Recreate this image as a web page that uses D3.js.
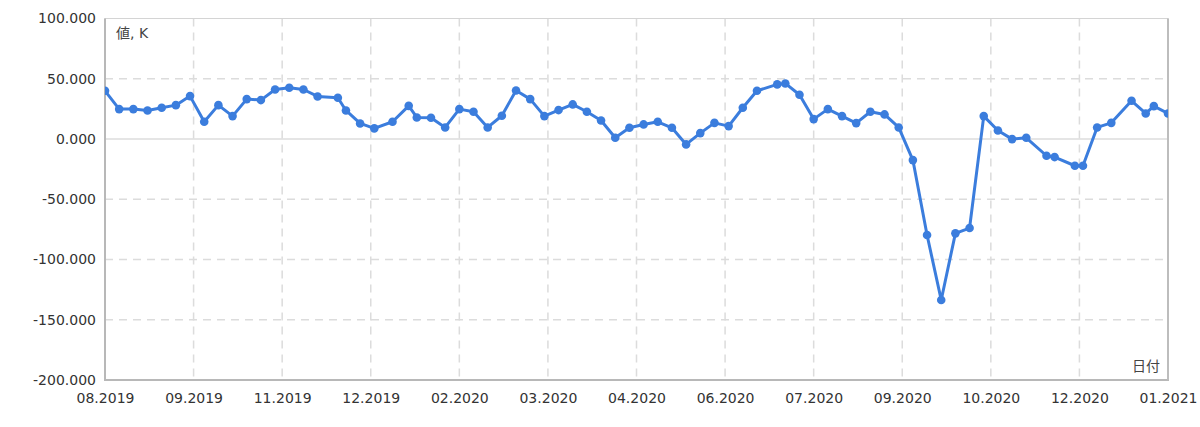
<!DOCTYPE html>
<html>
<head>
<meta charset="utf-8">
<script src="https://cdn.jsdelivr.net/npm/d3@7/dist/d3.min.js"></script>
<style>
  html, body { margin: 0; padding: 0; background: #fff; }
  svg { display: block; }
  text { font-family: "DejaVu Sans", "Noto Sans CJK JP", sans-serif; }
</style>
</head>
<body>
<svg id="chart" width="1200" height="427"></svg>
<script>
// ---- data ----
const dates = [
  "2019-08-11","2019-08-18","2019-08-25","2019-09-01","2019-09-08","2019-09-15","2019-09-22","2019-09-29",
  "2019-10-06","2019-10-13","2019-10-20","2019-10-27","2019-11-03","2019-11-10","2019-11-17","2019-11-24",
  "2019-12-04","2019-12-08","2019-12-15","2019-12-22","2019-12-31","2020-01-08","2020-01-12","2020-01-19",
  "2020-01-26","2020-02-02","2020-02-09","2020-02-16","2020-02-23","2020-03-01","2020-03-08","2020-03-15",
  "2020-03-22","2020-03-29","2020-04-05","2020-04-12","2020-04-19","2020-04-26","2020-05-03","2020-05-10",
  "2020-05-17","2020-05-24","2020-05-31","2020-06-07","2020-06-14","2020-06-21","2020-06-28","2020-07-08",
  "2020-07-12","2020-07-19","2020-07-26","2020-08-02","2020-08-09","2020-08-16","2020-08-23","2020-08-30",
  "2020-09-06","2020-09-13","2020-09-20","2020-09-27","2020-10-04","2020-10-11","2020-10-18","2020-10-25",
  "2020-11-01","2020-11-08","2020-11-18","2020-11-22","2020-12-02","2020-12-06","2020-12-13","2020-12-20",
  "2020-12-30","2021-01-06","2021-01-10","2021-01-17"
];
const values = [
  40.0, 24.8, 24.8, 23.7, 25.9, 28.1, 35.6, 14.3, 28.1, 19.0, 33.1, 32.3, 41.1, 42.5, 41.1, 35.3,
  34.2, 23.7, 12.9, 8.8, 14.3, 27.5, 17.9, 17.6, 9.6, 24.8, 22.6, 9.6, 19.3, 40.3, 33.1, 19.0,
  24.0, 28.7, 22.6, 15.4, 1.0, 9.3, 12.1, 14.3, 9.3, -4.5, 4.9, 13.4, 10.7, 25.9, 40.0, 45.3,
  46.1, 36.7, 16.5, 24.8, 19.0, 13.2, 22.6, 20.4, 9.6, -17.5, -79.7, -133.6, -78.3, -73.9, 19.0, 7.1,
  -0.1, 1.0, -13.9, -15.0, -22.2, -22.2, 9.6, 13.4, 31.7, 21.2, 27.3, 21.2
];
const yTicks = [100, 50, 0, -50, -100, -150, -200];
const xTickCount = 13;
const yAxisTitle = "値, K";
const xAxisTitle = "日付";

// ---- layout ----
const margin = { left: 105, right: 32, top: 18.5, bottom: 47 };
const W = 1200, H = 427;
const svg = d3.select("#chart");
const parse = d3.utcParse("%Y-%m-%d");
const data = dates.map((d, i) => ({ date: parse(d), value: values[i] }));

const x = d3.scaleUtc()
  .domain(d3.extent(data, d => d.date))
  .range([margin.left, W - margin.right]);
const y = d3.scaleLinear()
  .domain([-200, 100])
  .range([H - margin.bottom, margin.top]);

const [d0, d1] = x.domain();
const xTicks = d3.range(xTickCount).map(k => new Date(+d0 + (d1 - d0) * k / (xTickCount - 1)));
const fmtX = d3.utcFormat("%m.%Y");
const locale = d3.formatLocale({ decimal: ".", thousands: ",", grouping: [3], currency: ["", ""], minus: "-" });
const fmtY = locale.format(".3f");

const gridColor = "#dcdcdc";

// horizontal grid
svg.append("g").selectAll("line").data(yTicks.filter(v => v !== 100 && v !== -200)).join("line")
  .attr("x1", margin.left).attr("x2", W - margin.right)
  .attr("y1", d => y(d)).attr("y2", d => y(d))
  .attr("stroke", gridColor).attr("stroke-width", 1.5)
  .attr("stroke-dasharray", d => d === 0 ? null : "8,6");

// vertical grid
svg.append("g").selectAll("line").data(xTicks.slice(1, -1)).join("line")
  .attr("x1", d => x(d)).attr("x2", d => x(d))
  .attr("y1", margin.top).attr("y2", H - margin.bottom)
  .attr("stroke", gridColor).attr("stroke-width", 1.5)
  .attr("stroke-dasharray", "8,6");

// frame
svg.append("rect")
  .attr("x", margin.left).attr("y", margin.top)
  .attr("width", W - margin.right - margin.left)
  .attr("height", H - margin.bottom - margin.top)
  .attr("fill", "none").attr("stroke", "#d4d4d4").attr("stroke-width", 1);
svg.append("line")
  .attr("x1", margin.left).attr("x2", margin.left)
  .attr("y1", margin.top).attr("y2", H - margin.bottom + 1)
  .attr("stroke", "#b8b8b8").attr("stroke-width", 2);
svg.append("line")
  .attr("x1", margin.left).attr("x2", W - margin.right + 1)
  .attr("y1", H - margin.bottom).attr("y2", H - margin.bottom)
  .attr("stroke", "#b8b8b8").attr("stroke-width", 2);
svg.append("line")
  .attr("x1", W - margin.right).attr("x2", W - margin.right)
  .attr("y1", margin.top).attr("y2", H - margin.bottom)
  .attr("stroke", "#bdbdbd").attr("stroke-width", 2);

// y axis labels
const yAxis = d3.axisLeft(y).tickValues(yTicks).tickFormat(fmtY).tickSize(0).tickPadding(9);
const gy = svg.append("g").attr("transform", `translate(${margin.left},0)`).call(yAxis);
gy.select(".domain").remove();
gy.selectAll("text").attr("font-size", 14).attr("fill", "#333")
  .attr("font-family", "'DejaVu Sans', sans-serif");

// x axis labels
const xAxis = d3.axisBottom(x).tickValues(xTicks).tickFormat(fmtX).tickSize(0).tickPadding(13);
const gx = svg.append("g").attr("transform", `translate(0,${H - margin.bottom})`).call(xAxis);
gx.select(".domain").remove();
gx.selectAll("text").attr("font-size", 14).attr("fill", "#333")
  .attr("font-family", "'DejaVu Sans', sans-serif");

// axis titles
svg.append("text").attr("x", margin.left + 11).attr("y", margin.top + 19)
  .attr("font-size", 14).attr("fill", "#444").text(yAxisTitle);
svg.append("text").attr("x", W - margin.right - 8).attr("y", H - margin.bottom - 9)
  .attr("text-anchor", "end").attr("font-size", 14).attr("fill", "#444").text(xAxisTitle);

// line + points
const lineColor = "#3b7ddd";
svg.append("clipPath").attr("id", "clip").append("rect")
  .attr("x", margin.left).attr("y", 0)
  .attr("width", W - margin.right - margin.left).attr("height", H);
const line = d3.line().x(d => x(d.date)).y(d => y(d.value));
svg.append("path").datum(data)
  .attr("clip-path", "url(#clip)")
  .attr("fill", "none").attr("stroke", lineColor).attr("stroke-width", 3)
  .attr("stroke-linejoin", "round").attr("d", line);
svg.append("g").attr("clip-path", "url(#clip)").selectAll("circle").data(data).join("circle")
  .attr("cx", d => x(d.date)).attr("cy", d => y(d.value)).attr("r", 4.3)
  .attr("fill", lineColor);
</script>
</body>
</html>
